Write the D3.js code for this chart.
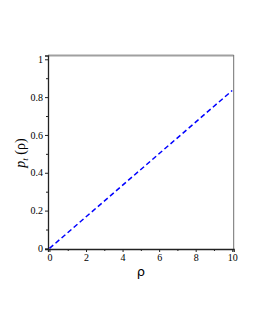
<!DOCTYPE html>
<html><head><meta charset="utf-8">
<script src="https://cdn.jsdelivr.net/npm/d3@7"></script>
<style>body{margin:0;background:#fff}svg{display:block}</style>
</head><body>
<svg id="c" width="255" height="330"></svg>
<script>
const rho = [0, 10];
const pt = [0, 0.835];
const xTicks = [0, 2, 4, 6, 8, 10];
const xMinor = [1, 3, 5, 7, 9];
const yTicks = [0, 0.2, 0.4, 0.6, 0.8, 1];
const yMinor = [0.1, 0.3, 0.5, 0.7, 0.9];

const svg = d3.select("#c");
const x = d3.scaleLinear().domain([-0.08, 10.08]).range([48, 233.7]);
const y = d3.scaleLinear().domain([-0.003, 1.02]).range([249, 55.5]);

// frame top/right
svg.append("line").attr("x1", 48).attr("x2", 233.7).attr("y1", 55.5).attr("y2", 55.5)
  .attr("stroke", "#a0a0a0").attr("stroke-width", 2);
svg.append("line").attr("x1", 233.7).attr("x2", 233.7).attr("y1", 55).attr("y2", 249)
  .attr("stroke", "#707070").attr("stroke-width", 1);

const fmt = d => d === 0 ? "0" : d === 1 ? "1" : (d < 1 ? d3.format(".1f")(d) : String(d));

const xa = svg.append("g").attr("transform", "translate(0,249)")
  .call(d3.axisBottom(x).tickValues(xTicks).tickSize(3).tickPadding(2).tickFormat(d => String(d)));
const xm = svg.append("g").attr("transform", "translate(0,249)")
  .call(d3.axisBottom(x).tickValues(xMinor).tickSize(2).tickFormat(""));
xm.select(".domain").remove();

const ya = svg.append("g").attr("transform", "translate(48,0)")
  .call(d3.axisLeft(y).tickValues(yTicks).tickSize(3).tickPadding(2).tickFormat(fmt));
const ym = svg.append("g").attr("transform", "translate(48,0)")
  .call(d3.axisLeft(y).tickValues(yMinor).tickSize(2).tickFormat(""));
ym.select(".domain").remove();

svg.selectAll(".domain").attr("stroke", "#222").attr("stroke-width", 1.3);
svg.selectAll(".tick line").attr("stroke", "#222");
svg.selectAll(".tick text").attr("font-family", "Liberation Serif, Times New Roman, serif")
  .attr("font-size", 10).attr("fill", "#000");

// data line
const line = d3.line().x((d, i) => x(rho[i])).y((d, i) => y(pt[i]));
svg.append("path").datum(pt).attr("d", line).attr("fill", "none")
  .attr("stroke", "#0000ff").attr("stroke-width", 1.5).attr("stroke-dasharray", "5,3");

// axis labels
svg.append("text").attr("x", 141).attr("y", 276).attr("text-anchor", "middle")
  .attr("font-family", "DejaVu Sans, sans-serif").attr("font-size", 13).text("ρ");

const yl = svg.append("text").attr("transform", "translate(25,153) rotate(-90)")
  .attr("text-anchor", "middle").attr("font-family", "Liberation Serif, serif").attr("font-size", 14);
yl.append("tspan").attr("font-style", "italic").text("p");
yl.append("tspan").attr("font-style", "italic").attr("font-size", 9).attr("dy", 3).text("t");
yl.append("tspan").attr("dy", -3).text(" (ρ)");
</script>
</body></html>
